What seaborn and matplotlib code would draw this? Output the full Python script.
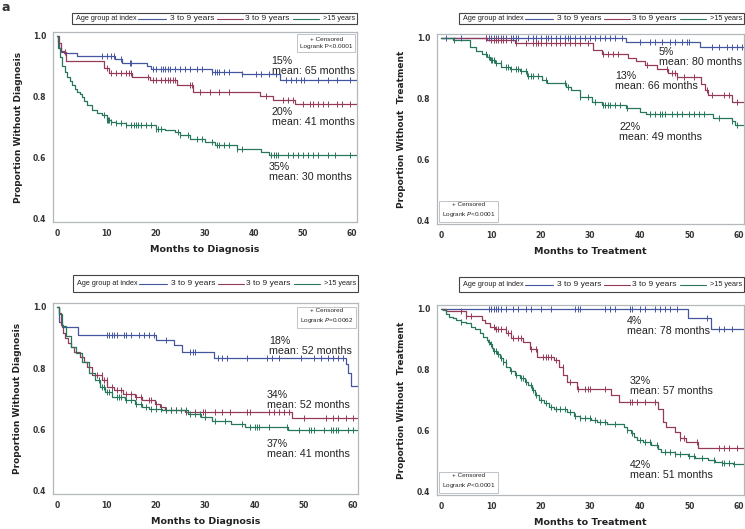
import numpy as np
import matplotlib
matplotlib.use("Agg")
import matplotlib.pyplot as plt
import seaborn as sns
from matplotlib.patches import Rectangle
from matplotlib.lines import Line2D

# ---------------- data ----------------
group_names = ["3 to 9 years", "3 to 9 years", ">15 years"]

# panel a: months to diagnosis (top left)
a_blue_t = [0, 0.2, 0.4, 0.7, 1.3, 4.0, 11.8, 13.2, 18.2, 19.0, 31.4, 37.5, 45.3, 61]
a_blue_s = [1.0, 0.98, 0.96, 0.95, 0.942, 0.933, 0.922, 0.909, 0.900, 0.892, 0.882, 0.873, 0.855, 0.855]
a_blue_c = [9, 10, 11, 11.5, 13, 14.7, 15, 19.5, 20, 21, 21.5, 22, 22.5, 23, 24, 25, 26, 27, 28.5, 29.5,
            31.5, 32, 32.5, 33, 34, 35, 37.5, 40.5, 41.5, 43, 44.5, 46.5, 47.5, 48.5, 49.5, 50.3, 53, 55, 57, 59.5]
a_red_t = [0, 0.3, 0.7, 1.7, 9.5, 10.5, 15.2, 18.9, 24.3, 27.7, 41.2, 43.9, 48.3, 61]
a_red_s = [1.0, 0.975, 0.948, 0.917, 0.893, 0.877, 0.866, 0.855, 0.838, 0.816, 0.802, 0.791, 0.776, 0.776]
a_red_c = [1.5, 10, 11, 12, 13, 14, 14.5, 15, 18.5, 19.5, 20, 21, 22, 22.5, 23, 23.5, 24, 27, 27.5, 29, 31,
           33, 35, 42.5, 46, 47, 48, 50, 51.5, 52, 53, 54, 55, 57, 58, 59.5]
a_green_t = [0, 0.2, 0.5, 1, 1.5, 2, 2.5, 3, 3.5, 4, 4.5, 5, 5.5, 6, 7, 8, 9, 10, 11, 12, 14, 20, 22, 24,
             25, 27, 30, 32, 36.5, 41.5, 43, 61]
a_green_s = [1.0, 0.96, 0.93, 0.9, 0.882, 0.866, 0.852, 0.838, 0.826, 0.816, 0.808, 0.8, 0.785, 0.773,
             0.756, 0.748, 0.74, 0.723, 0.718, 0.713, 0.707, 0.696, 0.69, 0.685, 0.674, 0.663, 0.652,
             0.642, 0.63, 0.62, 0.609, 0.609]
a_green_c = [9.5, 10, 10.3, 10.6, 11, 12, 13, 14, 15, 15.5, 16, 16.5, 17, 18, 19, 20, 20.5, 21, 24.5, 25,
             26.5, 28.5, 29.5, 31.5, 32.5, 33, 34, 35, 36.5, 37.5, 43.5, 44, 44.5, 45, 47, 48, 49, 50, 51,
             52, 53, 55, 56.5, 59.5]

# panel b: months to treatment (top right)
b_blue_t = [0, 37.3, 52.1, 61]
b_blue_s = [1.0, 0.985, 0.971, 0.971]
b_blue_c = [1, 4, 9, 9.5, 10, 10.5, 11, 11.5, 12, 12.5, 13, 14, 14.5, 15, 15.5, 17.5, 18.5, 19, 20, 21,
            21.5, 22, 23, 24, 25, 25.5, 26, 27, 28, 29, 30, 31, 32, 33, 34, 35, 36.5, 40, 42, 43, 44.5,
            46, 47, 48.5, 49.5, 50, 54.5, 56, 57.5, 58.5, 59.5, 60.5]
b_red_t = [0, 9.1, 14.8, 30.6, 32.3, 37.7, 39.3, 41.0, 43.4, 45.7, 47.4, 52.4, 53.1, 53.8, 58.5, 61]
b_red_s = [1.0, 0.992, 0.981, 0.959, 0.948, 0.935, 0.923, 0.911, 0.898, 0.885, 0.871, 0.849, 0.83,
           0.812, 0.79, 0.79]
b_red_c = [9, 10, 10.5, 11, 11.5, 12, 12.5, 13, 14, 15, 17, 18.5, 19, 19.5, 20, 21, 22, 23, 24, 25, 26,
           27, 28, 29.5, 32.5, 33.5, 34.5, 35.5, 41.5, 45.5, 46.5, 47, 47.5, 49, 51, 53.5, 54.5, 57, 58, 59.5]
b_green_t = [0, 2.4, 5.8, 7.0, 8.1, 9.1, 9.8, 10.8, 12.1, 13.8, 15.8, 17.2, 20.2, 21.2, 25.2, 26.2,
             27.9, 30.3, 32.3, 37.3, 40.0, 41.3, 54.8, 58.5, 59.2, 61]
b_green_s = [1.0, 0.991, 0.968, 0.957, 0.947, 0.938, 0.927, 0.916, 0.905, 0.898, 0.89, 0.876, 0.86,
             0.852, 0.839, 0.828, 0.806, 0.79, 0.78, 0.769, 0.758, 0.75, 0.737, 0.726, 0.715, 0.715]
b_green_c = [2.5, 9, 9.5, 10, 10.2, 10.5, 11, 12, 13, 13.5, 14, 15, 15.5, 16, 17, 17.5, 18, 18.5, 19.5,
             21, 25, 25.5, 28, 29.5, 31, 32.5, 33, 33.5, 34, 35, 36, 37.5, 42, 43, 44, 44.5, 45, 46.5,
             47.5, 48.5, 50, 51, 52, 53, 56, 58.5, 59.5]

# panel c: months to diagnosis (bottom left)
c_blue_t = [0, 0.3, 1.0, 4.2, 20.0, 23.7, 25.2, 31.8, 58.5, 59.0, 59.6, 61]
c_blue_s = [1.0, 0.951, 0.934, 0.907, 0.891, 0.874, 0.852, 0.834, 0.814, 0.785, 0.743, 0.743]
c_blue_c = [10, 10.5, 11, 11.5, 12, 13.5, 14, 15, 16.5, 17.5, 18.5, 19.5, 22, 27, 27.5, 28, 32.5, 33.5,
            34.5, 38.5, 42.5, 43.5, 45, 49.5, 52, 53.5, 55, 56, 57, 58]
c_red_t = [0, 0.3, 0.8, 1.2, 1.6, 2.2, 2.8, 3.3, 4.5, 5.3, 6.0, 7.1, 9.1, 10.1, 11.4, 13.4, 15.8, 17.1,
           19.8, 20.8, 21.8, 25.9, 47.7, 61]
c_red_s = [1.0, 0.979, 0.941, 0.914, 0.897, 0.883, 0.87, 0.854, 0.837, 0.821, 0.804, 0.777, 0.761,
           0.739, 0.728, 0.717, 0.706, 0.695, 0.684, 0.673, 0.664, 0.657, 0.638, 0.638]
c_red_c = [8, 9, 9.5, 10, 11, 12, 13, 14, 15, 16, 17, 18.5, 19, 20, 21, 22, 23, 24, 26, 28, 29.5, 30,
           32, 33.5, 35, 38.5, 39, 43, 44, 45, 46, 47, 50, 54.5, 56, 57, 58.5, 60]
c_green_t = [0, 0.3, 1.0, 1.7, 2.7, 3.7, 5.0, 6.4, 7.7, 8.7, 9.7, 11.1, 13.8, 15.8, 17.1, 18.5, 21.2,
             26.5, 29.2, 31.3, 35.3, 38.0, 46.7, 61]
c_green_s = [1.0, 0.975, 0.936, 0.903, 0.87, 0.85, 0.821, 0.783, 0.761, 0.739, 0.722, 0.706, 0.695,
             0.684, 0.673, 0.668, 0.662, 0.651, 0.64, 0.629, 0.618, 0.608, 0.599, 0.599]
c_green_c = [8.5, 9, 9.5, 10, 10.5, 11, 12, 12.5, 13, 14, 15, 16, 17, 18, 19, 20, 21, 22, 23, 24, 25,
             26, 27, 28, 29, 30, 32, 34, 37.5, 39, 40, 40.5, 41, 43, 46.5, 49, 51, 51.5, 52, 54, 55.5,
             56, 56.5, 57, 59, 60]

# panel d: months to treatment (bottom right)
d_blue_t = [0, 49.7, 54.4, 61]
d_blue_s = [1.0, 0.97, 0.933, 0.933]
d_blue_c = [9.5, 10, 10.5, 11, 11.5, 12, 13, 14.5, 15.5, 17, 18, 20, 22, 27, 27.5, 28, 33, 34, 35, 38,
            38.5, 40, 41, 43, 44, 45, 46, 47.5, 53.5, 56, 57, 58.5]
d_red_t = [0, 1.0, 5.0, 8.1, 8.8, 9.7, 10.8, 13.1, 14.1, 16.5, 17.9, 19.2, 22.6, 23.6, 24.6, 25.3,
           27.4, 34.1, 35.8, 43.6, 44.6, 45.3, 47.0, 48.0, 49.4, 51.7, 61]
d_red_s = [1.0, 0.992, 0.977, 0.962, 0.952, 0.94, 0.933, 0.919, 0.903, 0.892, 0.868, 0.843, 0.832,
           0.81, 0.783, 0.761, 0.736, 0.717, 0.693, 0.673, 0.63, 0.613, 0.597, 0.575, 0.564, 0.543, 0.543]
d_red_c = [4, 5, 6, 10.5, 11, 11.5, 12, 13, 13.5, 14, 14.5, 15.5, 16, 18, 19, 20.5, 21, 21.5, 22, 23,
           24.5, 26, 27.5, 29, 29.5, 30, 33, 38, 38.5, 39.5, 41, 43, 48, 49, 51.5, 56, 57, 58, 59.5]
d_green_t = [0, 0.3, 1.0, 1.6, 2.3, 3.0, 4.0, 5.0, 6.0, 6.7, 7.7, 8.4, 9.1, 9.4, 9.8, 10.1, 10.4, 11.1,
             11.8, 12.5, 13.1, 13.8, 14.8, 15.8, 16.9, 17.5, 18.2, 18.9, 19.6, 20.6, 21.6, 22.6, 25.3,
             26.7, 28.0, 30.1, 31.4, 33.4, 36.8, 37.5, 38.2, 38.9, 39.5, 40.6, 42.2, 43.6, 44.3, 47.0,
             49.7, 51.1, 53.8, 55.1, 56.5, 58.8, 61]
d_green_s = [1.0, 0.995, 0.984, 0.973, 0.968, 0.962, 0.957, 0.952, 0.941, 0.935, 0.919, 0.908, 0.897,
             0.892, 0.883, 0.872, 0.861, 0.85, 0.837, 0.826, 0.81, 0.796, 0.783, 0.772, 0.761, 0.75,
             0.733, 0.717, 0.701, 0.69, 0.679, 0.671, 0.663, 0.65, 0.643, 0.635, 0.628, 0.624, 0.614,
             0.603, 0.592, 0.581, 0.57, 0.565, 0.554, 0.541, 0.532, 0.523, 0.518, 0.51, 0.505, 0.499,
             0.494, 0.49, 0.49]
d_green_c = [4, 9.5, 10, 10.5, 11, 11.5, 12, 12.5, 13, 14, 15, 16, 16.5, 17, 18, 18.5, 19, 20, 21, 22,
             23, 24, 25, 26, 27, 28, 29, 30, 31, 32, 33, 35, 37.5, 38.5, 40, 41, 42, 43.5, 45, 46, 47,
             48, 50, 51, 52.5, 55, 56.5, 57, 58, 59]

# annotations: percent and mean per group
a_pct, a_mean = ["15%", "20%", "35%"], [65, 41, 30]
b_pct, b_mean = ["5%", "13%", "22%"], [80, 66, 49]
c_pct, c_mean = ["18%", "34%", "37%"], [52, 52, 41]
d_pct, d_mean = ["4%", "32%", "42%"], [78, 57, 51]
pvalues = ["<0.0001", "<0.0001", "=0.0062", "<0.0001"]

# ---------------- styling ----------------
sns.set_style("white")
plt.rcParams["font.family"] = ["DejaVu Sans"]
colors = ["#4556a0", "#963a5a", "#27775a"]
frame_col = "#b4b8bc"

W, H = 745, 529
fig = plt.figure(figsize=(W / 100, H / 100), dpi=100)


def add_axes_px(l, t, r, b):
    return fig.add_axes([l / W, 1 - b / H, (r - l) / W, (b - t) / H])


def km(ax, t, s, cens, color):
    t = np.asarray(t, float)
    s = np.asarray(s, float)
    sns.lineplot(x=t, y=s, ax=ax, color=color, lw=0.9, drawstyle="steps-post",
                 estimator=None, sort=False)
    c = np.asarray(cens, float)
    cy = s[np.searchsorted(t, c, side="right") - 1]
    sns.scatterplot(x=c, y=cy, ax=ax, marker="|", s=14, color=color, linewidth=0.7, zorder=3)


def legend_box(l, t, r, b):
    fig.patches.append(Rectangle((l / W, 1 - b / H), (r - l) / W, (b - t) / H,
                                 transform=fig.transFigure, fill=False, ec="#444444", lw=0.8))
    yc = 1 - (t + b) / 2 / H
    fig.text((l + 4) / W, yc, "Age group at index", fontsize=5.2, va="center",
             family="Liberation Sans", color="#222222")
    segs = [(66, 94, 98, 6.1), (145, 171, 173, 6.1), (221, 247, 251, 5.2)]
    for (x0, x1, xt, fs), col, name in zip(segs, colors, group_names):
        fig.lines.append(Line2D([(l + x0) / W, (l + x1) / W], [yc, yc], transform=fig.transFigure,
                                color=col, lw=0.8))
        fig.text((l + xt) / W, yc, name, fontsize=fs, va="center", family="Liberation Sans",
                 color="#222222")


panels = [
    dict(box=(53, 32, 357, 222), leg=(72, 13, 357, 24), kind="Diagnosis",
         curves=[(a_blue_t, a_blue_s, a_blue_c), (a_red_t, a_red_s, a_red_c), (a_green_t, a_green_s, a_green_c)],
         pct=a_pct, mean=a_mean, txt=[(43.6, 0.935), (43.6, 0.765), (43.0, 0.588)], cens_loc="ur"),
    dict(box=(437, 34, 744, 224), leg=(459, 13, 744, 24), kind="Treatment",
         curves=[(b_blue_t, b_blue_s, b_blue_c), (b_red_t, b_red_s, b_red_c), (b_green_t, b_green_s, b_green_c)],
         pct=b_pct, mean=b_mean, txt=[(43.8, 0.968), (35.0, 0.89), (35.8, 0.723)], cens_loc="ll"),
    dict(box=(53, 303, 358, 494), leg=(73, 275, 358, 292), kind="Diagnosis",
         curves=[(c_blue_t, c_blue_s, c_blue_c), (c_red_t, c_red_s, c_red_c), (c_green_t, c_green_s, c_green_c)],
         pct=c_pct, mean=c_mean, txt=[(43.0, 0.906), (42.5, 0.728), (42.5, 0.57)], cens_loc="ur"),
    dict(box=(437, 305, 744, 495), leg=(459, 277, 744, 292), kind="Treatment",
         curves=[(d_blue_t, d_blue_s, d_blue_c), (d_red_t, d_red_s, d_red_c), (d_green_t, d_green_s, d_green_c)],
         pct=d_pct, mean=d_mean, txt=[(37.4, 0.975), (38.0, 0.778), (38.0, 0.504)], cens_loc="ll"),
]

for i, p in enumerate(panels):
    ax = add_axes_px(*p["box"])
    for (t, s, c), col in zip(p["curves"], colors):
        km(ax, t, s, c, col)
    ax.set_xlim(-0.9, 61)
    ax.set_ylim(0.39, 1.012)
    ax.set_xticks(range(0, 61, 10))
    ax.set_yticks([0.4, 0.6, 0.8, 1.0])
    ax.set_yticklabels([f"{v:.1f}" for v in [0.4, 0.6, 0.8, 1.0]])
    ax.tick_params(axis="both", length=3, width=0.6, color="#888888", labelsize=5.5,
                   labelcolor="#333333", pad=2)
    for lab in ax.get_xticklabels() + ax.get_yticklabels():
        lab.set_fontweight("bold")
    for sp in ax.spines.values():
        sp.set_color(frame_col)
        sp.set_linewidth(0.9)
    ylab = "Proportion Without Diagnosis" if p["kind"] == "Diagnosis" else "Proportion Without  Treatment"
    ax.set_ylabel(ylab, fontsize=6.5, fontweight="bold", color="#222222")
    ax.yaxis.set_label_coords(-0.1, 0.5)
    ax.set_xlabel(f"Months to {p['kind']}", fontsize=6.8, fontweight="bold", color="#222222")
    ax.xaxis.set_label_coords(0.5, -0.12)
    ax.xaxis.label.set_va("top")

    for (x, y), pc, mn in zip(p["txt"], p["pct"], p["mean"]):
        ax.text(x, y, f"{pc}\nmean: {mn} months", fontsize=7.7, va="top", ha="left",
                family="Liberation Sans", color="#222222", linespacing=1.0)

    ptxt = "P" if i == 0 else "$P$"
    ctext = f"+ Censored\nLogrank {ptxt}{pvalues[i]}"
    bb = dict(boxstyle="square,pad=0.45", fc="white", ec="#c0c4c8", lw=0.7)
    if p["cens_loc"] == "ur":
        ax.text(0.985, 0.975, ctext, transform=ax.transAxes, ha="right", va="top", fontsize=4.6,
                multialignment="center", family="Liberation Sans", bbox=bb, linespacing=1.5)
    else:
        ax.text(0.015, 0.025, ctext, transform=ax.transAxes, ha="left", va="bottom", fontsize=4.6,
                multialignment="center", family="Liberation Sans", bbox=bb, linespacing=1.5)

    legend_box(*p["leg"])

fig.text(0.002, 0.998, "a", fontsize=9, fontweight="bold", va="top", ha="left", color="#333333")

fig.savefig("out.png", dpi=100)
